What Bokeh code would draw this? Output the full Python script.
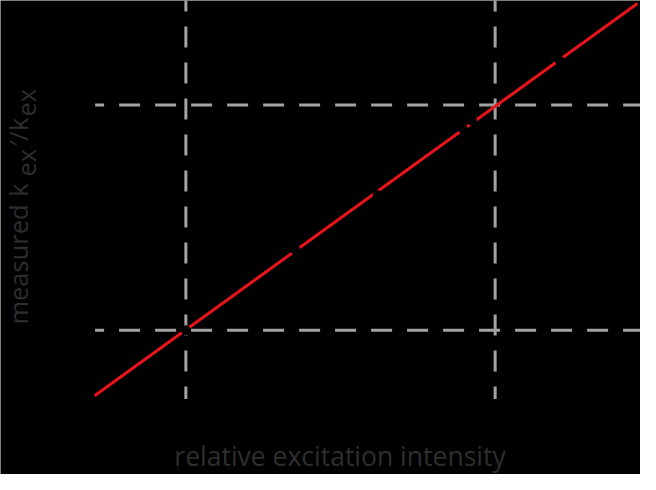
from bokeh.plotting import figure
from bokeh.models import Range1d, Label
from bokeh.embed import file_html
from bokeh.resources import INLINE
import math

# ---- data ----
ref_x = [1.0, 3.0]            # vertical dashed reference lines (relative intensity)
ref_y = [1.0, 3.0]            # horizontal dashed reference lines (measured ratio)
fit_x = [0.41, 3.92]          # red fit line
fit_y = [0.42, 3.90]
pts_x = [1.0, 1.71, 2.24, 2.79, 2.85, 3.42]   # measured points (drawn black)
pts_y = [1.0, 1.71, 2.20, 2.79, 2.86, 3.39]

x_label = "relative excitation intensity"
y_parts = ["measured", "k", "ex", "\u2032", "/", "k", "ex"]

# ---- layout ----
W, H = 640, 474
X_MIN, X_MAX = -0.1987, 3.940
Y_MIN, Y_MAX = -0.279, 3.927
AREA_X0 = 0.4132      # left end of horizontal reference lines
AREA_Y0 = 0.3906      # bottom end of vertical reference lines

REF_W, REF_H = 656.0, 490.0

def dx(rx):  # reference pixel x -> data x
    return X_MIN + rx / REF_W * (X_MAX - X_MIN)

def dy(ry):  # reference pixel y -> data y
    return Y_MAX - ry / REF_H * (Y_MAX - Y_MIN)

p = figure(width=W, height=H, output_backend="svg", toolbar_location=None,
           x_range=Range1d(X_MIN, X_MAX), y_range=Range1d(Y_MIN, Y_MAX),
           x_axis_location=None, y_axis_location=None,
           min_border=0,
           background_fill_color="black", border_fill_color="black",
           outline_line_color=None)
p.grid.visible = False

dash_col = "#a3a3a3"
p.segment(x0=ref_x, y0=[Y_MAX] * len(ref_x), x1=ref_x, y1=[AREA_Y0] * len(ref_x),
          line_color=dash_col, line_width=3, line_dash="21 15", line_dash_offset=10)
p.segment(x0=[AREA_X0] * len(ref_y), y0=ref_y, x1=[X_MAX] * len(ref_y), y1=ref_y,
          line_color=dash_col, line_width=3, line_dash="21 15", line_dash_offset=12)

p.line(fit_x, fit_y, line_color="#e8141a", line_width=3)
p.scatter(pts_x, pts_y, size=9, fill_color="black", line_color="black")

txt_col = "#2e2e2e"
font = "Open Sans"
p.add_layout(Label(x=dx(348), y=dy(482), y_offset=11, text=x_label, text_align="center",
                   text_baseline="alphabetic", text_color=txt_col,
                   text_font=font, text_font_size="26.5px"))

# y label pieces: start (reference px y) and baseline (reference px x)
starts = [335, 203, 182, 151, 145, 135, 120]
bases = [26, 26, 34, 26, 26, 26, 34]
for t, sy, bx in zip(y_parts, starts, bases):
    p.add_layout(Label(x=dx(bx), y=dy(sy), x_offset=-8, text=t, angle=math.pi / 2,
                       text_align="left", text_baseline="alphabetic",
                       text_color=txt_col, text_font=font, text_font_size="25.5px"))

open("out.html", "w").write(file_html(p, INLINE))
